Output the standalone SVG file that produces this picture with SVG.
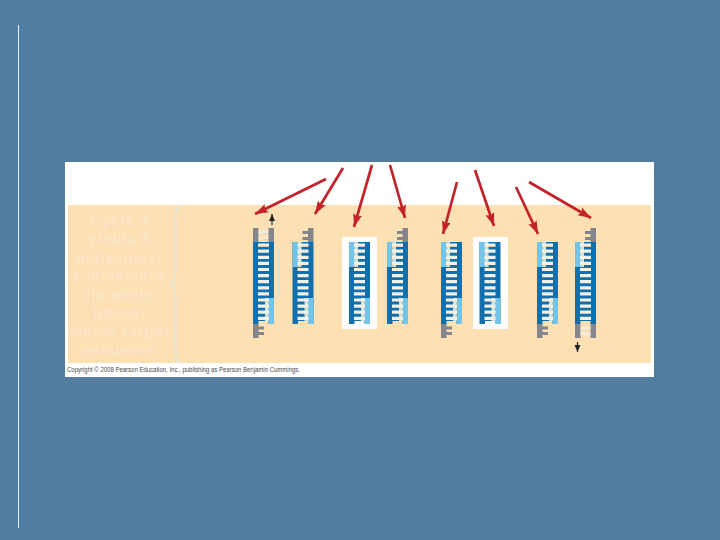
<svg xmlns="http://www.w3.org/2000/svg" width="720" height="540" viewBox="0 0 720 540">
<style>
.cap{font-family:"Liberation Sans",Arial,sans-serif;font-weight:700;font-size:14.5px;letter-spacing:1.1px;fill:#fae6c8;text-anchor:middle}
.copy{font-family:"Liberation Sans",Arial,sans-serif;font-size:6.6px;fill:#4a4a4a}
.red{stroke:#c4222a;stroke-width:2.7;fill:none;marker-end:url(#rh)}
.blk{stroke:#222;stroke-width:1.2;fill:none;marker-end:url(#bh)}
.box{fill:#fff}
.bl{fill:#1070ae}.lt{fill:#73c4e6}.gr{fill:#85858c}.pale{fill:#cfe3dc}.rg{fill:#f1ecdd}
</style>
<defs>
<marker id="rh" markerUnits="userSpaceOnUse" markerWidth="14" markerHeight="11" refX="13" refY="5" orient="auto"><path d="M0 0.500L13 5L0 9.500L2 5Z" fill="#c4222a"/></marker>
<marker id="bh" markerUnits="userSpaceOnUse" markerWidth="8" markerHeight="8" refX="7" refY="3" orient="auto"><path d="M0 0L7 3L0 6Z" fill="#222"/></marker>
<g id="core">
<rect class="bl" x="0" y="242" width="5.500" height="82"/>
<rect class="bl" x="15.500" y="242" width="5.500" height="82"/>
<rect class="bl" x="5" y="267" width="11" height="31"/>
</g>
<g id="ltop">
<rect class="lt" x="0" y="242" width="5.500" height="25"/>
<rect class="pale" x="5.500" y="242" width="3.500" height="25"/>
<rect class="bl" x="9" y="242" width="7" height="25"/>
</g>
<rect id="btop" class="bl" x="5" y="242" width="11" height="25"/>
<g id="rbot">
<rect class="lt" x="15.500" y="298" width="5.500" height="26"/>
<rect class="pale" x="12" y="298" width="3.500" height="23"/>
<rect class="bl" x="5" y="298" width="7" height="23"/>
</g>
<rect id="bbot" class="bl" x="5" y="298" width="11" height="23"/>
<path id="rungs" d="M10.500 243.500V321" fill="none" stroke="#f4f0e4" stroke-width="11" stroke-dasharray="3.200 2.900"/>
<g id="gtopR">
<rect class="gr" x="15.500" y="228" width="5.500" height="14"/>
<rect class="gr" x="10" y="231" width="6" height="3"/>
<rect class="gr" x="10" y="237" width="6" height="3"/>
</g>
<g id="gbotL">
<rect class="gr" x="0" y="324" width="5.500" height="14"/>
<rect class="gr" x="5" y="326.500" width="6" height="3"/>
<rect class="gr" x="5" y="332" width="6" height="3"/>
</g>
</defs>
<rect width="720" height="540" fill="#527ca0"/>
<line x1="18.500" y1="25" x2="18.500" y2="528" stroke="#e8eef3" stroke-width="1"/>
<rect id="panel" x="65" y="162" width="589" height="215" fill="#fff"/>
<rect id="band" x="68" y="205" width="583" height="158" fill="#fde0b4"/>
<g id="caption">
<text class="cap" x="120" y="226">Cycle 3</text>
<text class="cap" x="120" y="244">yields 8</text>
<text class="cap" x="120" y="263">molecules;</text>
<text class="cap" x="120" y="281">2 molecules</text>
<text class="cap" x="120" y="300">(in white</text>
<text class="cap" x="120" y="318">boxes)</text>
<text class="cap" x="120" y="337">match target</text>
<text class="cap" x="120" y="355">sequence</text>
</g>
<path id="brace" d="M180 207C176 208 175.500 211 175.500 216V274C175.500 280 174 284 171 285.500C174 287 175.500 291 175.500 297V353C175.500 358 176 361 180 362" fill="none" stroke="#e6e8d8" stroke-width="2"/>
<g id="mol1" transform="translate(253 0)">
<use href="#core"/><use href="#btop"/><use href="#rbot"/><use href="#rungs"/>
<rect class="gr" x="0" y="228" width="5.500" height="14"/>
<use href="#gtopR"/><use href="#gbotL"/>
<rect class="rg" x="5.500" y="231" width="10" height="2.800"/><rect class="rg" x="5.500" y="237" width="10" height="2.800"/>
</g>
<g id="mol2" transform="translate(292.500 0)"><use href="#core"/><use href="#ltop"/><use href="#rbot"/><use href="#rungs"/><use href="#gtopR"/></g>
<g id="mol3">
<rect class="box" x="342" y="237" width="35" height="92"/>
<g transform="translate(349 0)"><use href="#core"/><use href="#ltop"/><use href="#rbot"/><use href="#rungs"/></g>
</g>
<g id="mol4" transform="translate(387 0)"><use href="#core"/><use href="#ltop"/><use href="#rbot"/><use href="#rungs"/><use href="#gtopR"/></g>
<g id="mol5" transform="translate(441 0)"><use href="#core"/><use href="#ltop"/><use href="#rbot"/><use href="#rungs"/><use href="#gbotL"/></g>
<g id="mol6">
<rect class="box" x="473" y="237" width="35" height="92"/>
<g transform="translate(479.500 0)"><use href="#core"/><use href="#ltop"/><use href="#rbot"/><use href="#rungs"/></g>
</g>
<g id="mol7" transform="translate(537 0)"><use href="#core"/><use href="#ltop"/><use href="#rbot"/><use href="#rungs"/><use href="#gbotL"/></g>
<g id="mol8" transform="translate(575 0)">
<use href="#core"/><use href="#ltop"/><use href="#bbot"/><use href="#rungs"/>
<rect class="gr" x="0" y="324" width="5.500" height="14"/><rect class="gr" x="15.500" y="324" width="5.500" height="14"/>
<rect class="rg" x="5.500" y="326.500" width="10" height="2.800"/><rect class="rg" x="5.500" y="332.500" width="10" height="2.800"/>
<use href="#gtopR"/>
</g>
<g id="connectors">
<line class="red" x1="326" y1="179" x2="255" y2="214"/>
<line class="red" x1="343" y1="168" x2="315" y2="214"/>
<line class="red" x1="372" y1="165" x2="354" y2="227"/>
<line class="red" x1="390" y1="165" x2="405" y2="218"/>
<line class="red" x1="457" y1="182" x2="443" y2="234"/>
<line class="red" x1="475" y1="170" x2="494" y2="226"/>
<line class="red" x1="516" y1="187" x2="538" y2="234"/>
<line class="red" x1="529" y1="182" x2="591" y2="218"/>
<line class="blk" x1="272" y1="225" x2="272" y2="214"/>
<line class="blk" x1="577.500" y1="342" x2="577.500" y2="352"/>
</g>
<text class="copy" x="67" y="372" textLength="233" lengthAdjust="spacingAndGlyphs">Copyright © 2008 Pearson Education, Inc., publishing as Pearson Benjamin Cummings.</text>
</svg>
